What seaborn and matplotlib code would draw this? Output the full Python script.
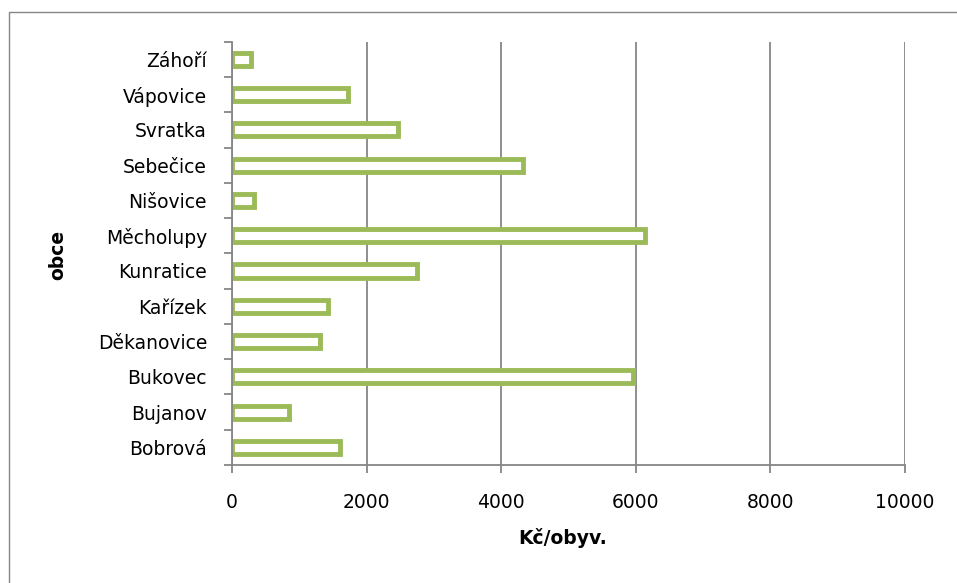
import matplotlib
matplotlib.use("Agg")
import matplotlib.pyplot as plt
import seaborn as sns
import numpy as np
import pandas as pd
from matplotlib.patches import Rectangle

categories = ["Záhoří", "Vápovice", "Svratka", "Sebečice", "Nišovice", "Měcholupy",
              "Kunratice", "Kařízek", "Děkanovice", "Bukovec", "Bujanov", "Bobrová"]
values = [280, 1725, 2466, 4319, 320, 6133, 2754, 1423, 1313, 5958, 846, 1602]
x_ticks = [0, 2000, 4000, 6000, 8000, 10000]
x_label = "Kč/obyv."
y_label = "obce"

sns.set_theme(style="white")
plt.rcParams['font.family'] = ['DejaVu Sans']

W, H = 957, 583
fig = plt.figure(figsize=(W / 100, H / 100), dpi=100)
ax = fig.add_axes([232 / W, 1 - 465 / H, (905 - 232) / W, (465 - 41.7) / H])

df = pd.DataFrame({"obec": categories, "hodnota": values})
sns.barplot(data=df, x="hodnota", y="obec", orient="h", width=0.37,
            color="white", edgecolor="#9BBB59", linewidth=3.5, ax=ax,
            saturation=1, zorder=3)

grid_c = "#868686"
ax.set_xlim(0, 10000)
ax.set_ylim(len(categories) - 0.5, -0.5)
ax.set_xticks(x_ticks)
ax.set_xticklabels([str(t) for t in x_ticks])
ax.xaxis.grid(True, color=grid_c, linewidth=1.3)
ax.yaxis.grid(False)
ax.set_axisbelow(True)

for s in ["top", "right"]:
    ax.spines[s].set_visible(False)
for s in ["left", "bottom"]:
    ax.spines[s].set_color(grid_c)
    ax.spines[s].set_linewidth(1.3)
    ax.spines[s].set_zorder(4)

ax.set_yticks(np.arange(-0.5, len(categories), 1.0), minor=True)
ax.tick_params(axis="y", which="major", length=0, pad=18, labelsize=13.5, labelcolor="black")
ax.tick_params(axis="y", which="minor", left=True, length=6, width=1.3, color=grid_c, direction="out")
ax.tick_params(axis="x", which="major", bottom=True, length=6, width=1.3, color=grid_c,
               direction="out", pad=14, labelsize=13.5, labelcolor="black")

ax.set_xlabel(x_label, fontsize=13.5, fontweight="bold", color="black")
ax.set_ylabel(y_label, fontsize=13.5, fontweight="bold", color="black")
ax.xaxis.set_label_coords((563 - 232) / 673, (465 - 538) / 423.3)
ax.xaxis.label.set_va("center")
ax.yaxis.set_label_coords((58 - 232) / 673, (465 - 255) / 423.3)
ax.yaxis.label.set_va("center")

fig.patches.append(Rectangle((8.5 / W, -0.05), 1.1, 1 - 12.5 / H + 0.05,
                             transform=fig.transFigure, fill=False,
                             edgecolor=grid_c, linewidth=1.0))

fig.savefig("out.png", dpi=100)
